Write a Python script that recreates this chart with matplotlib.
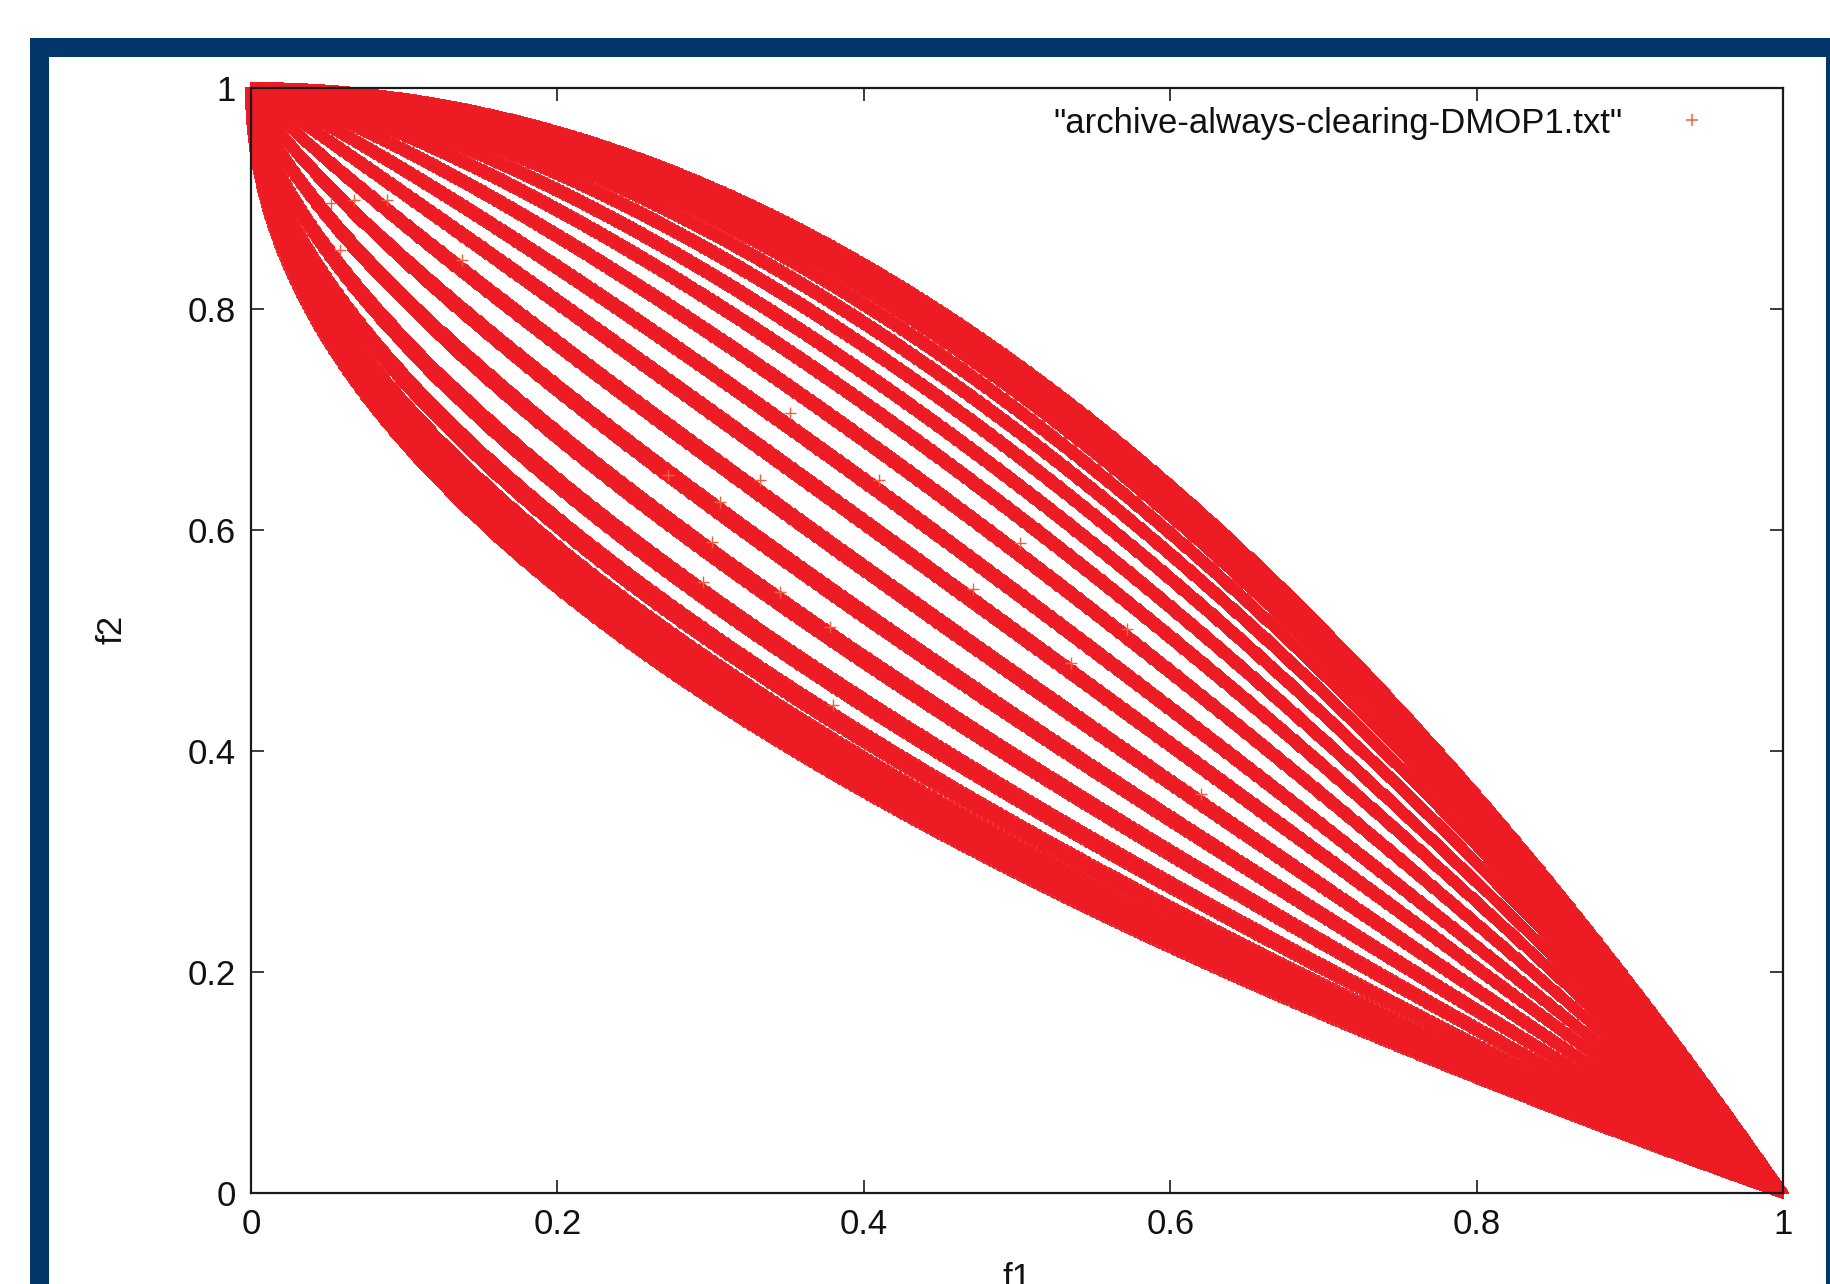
import numpy as np
import matplotlib
matplotlib.use("Agg")
import matplotlib.pyplot as plt
from matplotlib.patches import Rectangle
from matplotlib.lines import Line2D

# ---------------- data ----------------
# exponents H of the Pareto fronts f2 = 1 - f1**H stored in the archive
front_exponents = [2.00, 1.99, 1.96, 1.92, 1.86, 1.78, 1.69, 1.59, 1.48, 1.37,
                   1.25, 1.13, 1.02, 0.91, 0.81, 0.72, 0.64, 0.58, 0.54, 0.51, 0.50]
# small spread of the archive points around each front (in H)
band_spread = [-0.009, 0.0, 0.009]
# isolated archive points lying between the fronts
stray_f1 = [0.352, 0.332, 0.410, 0.306, 0.301, 0.471, 0.295, 0.378, 0.380, 0.345,
            0.502, 0.535, 0.052, 0.067, 0.089, 0.058, 0.138, 0.620, 0.572, 0.272]
stray_f2 = [0.706, 0.645, 0.645, 0.625, 0.589, 0.547, 0.553, 0.512, 0.442, 0.544,
            0.588, 0.480, 0.896, 0.899, 0.899, 0.853, 0.844, 0.361, 0.510, 0.650]
x_ticks = [0, 0.2, 0.4, 0.6, 0.8, 1]
x_tick_labels = ["0", "0.2", "0.4", "0.6", "0.8", "1"]
y_ticks = [0, 0.2, 0.4, 0.6, 0.8, 1]
y_tick_labels = ["0", "0.2", "0.4", "0.6", "0.8", "1"]
legend_label = '"archive-always-clearing-DMOP1.txt"'
x_label = "f1"
y_label = "f2"

# ---------------- styling ----------------
plt.rcParams["font.family"] = ["Liberation Sans", "DejaVu Sans"]
RED = "#ed1c24"
FRAME = "#03366b"
FS = 25
W, H = 1830, 1284

fig = plt.figure(figsize=(W / 100, H / 100), dpi=100)
fig.patch.set_facecolor("white")

# blue poster frame
for (x0, y0, w, h) in [(30, 38, 19, H - 38), (30, 38, W - 30, 19), (1826, 38, 4, H - 38)]:
    fig.patches.append(Rectangle((x0 / W, 1 - (y0 + h) / H), w / W, h / H,
                                 transform=fig.transFigure, facecolor=FRAME,
                                 edgecolor="none", zorder=0))

ax_left, ax_right, ax_top, ax_bottom = 251, 1783, 88, 1193
ax = fig.add_axes([ax_left / W, 1 - ax_bottom / H,
                   (ax_right - ax_left) / W, (ax_bottom - ax_top) / H])
ax.set_xlim(0, 1)
ax.set_ylim(0, 1)
sx, sy = ax_right - ax_left, ax_bottom - ax_top


def front_points(h, step_px=1.4):
    u = np.linspace(0.0, 1.0, 30001)
    v = 1.0 - u ** h
    d = np.hypot(np.diff(u) * sx, np.diff(v) * sy)
    s = np.concatenate([[0.0], np.cumsum(d)])
    ss = np.arange(0.0, s[-1], step_px)
    return np.interp(ss, s, u), np.interp(ss, s, v)


for hexp in front_exponents:
    for dh in band_spread:
        fx, fy = front_points(hexp + dh)
        ax.plot(fx, fy, ls="none", marker="+", ms=8, mew=1.3, color=RED,
                clip_on=False, zorder=2)

ax.plot(stray_f1, stray_f2, ls="none", marker="+", ms=8, mew=1.0,
        color="#f0603f", clip_on=False, zorder=2)

# axes / ticks
for sp in ax.spines.values():
    sp.set_linewidth(1.6)
    sp.set_color("#1a1a1a")
    sp.set_zorder(3)
ax.set_xticks(x_ticks)
ax.set_xticklabels(x_tick_labels)
ax.set_yticks(y_ticks)
ax.set_yticklabels(y_tick_labels)
ax.tick_params(direction="in", length=9.5, width=1.2, color="#1a1a1a",
               top=True, right=True, labelsize=FS, pad=11, labelcolor="#111111")

ax.set_xlabel(x_label, fontsize=FS, color="#111111")
ax.xaxis.set_label_coords(0.5, -0.0624)
ax.set_ylabel(y_label, fontsize=FS, color="#111111")
ax.yaxis.set_label_coords(-0.080, 0.51)

handle = Line2D([], [], ls="none", marker="+", ms=8.5, mew=1.1, color="#f0603f")
ax.legend([handle], [legend_label], loc="center right",
          bbox_to_anchor=(1727 / W, 1 - 123 / H), bbox_transform=fig.transFigure,
          frameon=False, markerfirst=False, borderpad=0, borderaxespad=0,
          handlelength=2, handletextpad=1.02, fontsize=FS,
          labelcolor="#111111")

fig.savefig("out.png", dpi=100)
